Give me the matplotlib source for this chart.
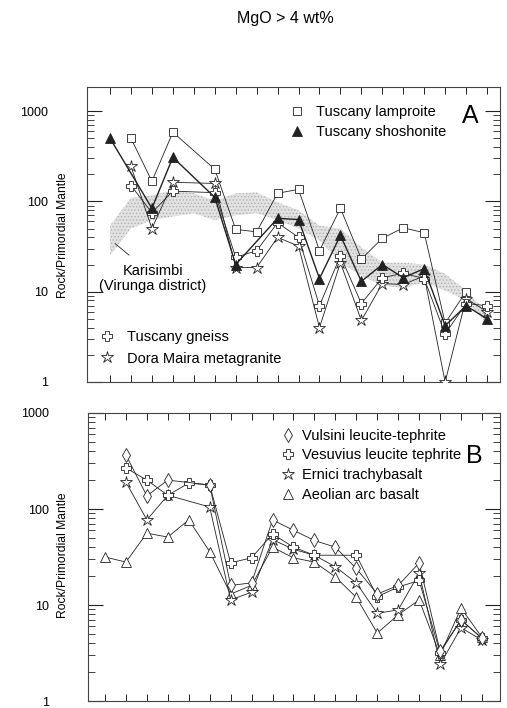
import matplotlib.pyplot as plt
import numpy as np
from matplotlib.lines import Line2D
from matplotlib.ticker import LogLocator, FuncFormatter, NullFormatter

plt.rcParams['font.family'] = ['Liberation Sans', 'DejaVu Sans']
plt.rcParams['hatch.linewidth'] = 0.6

nan = np.nan

# element positions along the spider diagram (x axis carries ticks only)
elements = np.arange(19)

# ---- panel A : MgO > 4 wt%, Tuscany / Dora Maira ----
tuscany_lamproite = [nan, 500, 167, 584, nan, 227, 49, 46, 123, 136, 28.5, 84, 23, 39, 51, 45, 4.5, 10, nan]
tuscany_shoshonite = [500, nan, 84, 308, nan, 111, 20, nan, 65, 63, 14, 42, 13, 20, 14.3, 18, 4.2, 7, 5]
tuscany_gneiss = [nan, 150, 75, 130, nan, 125, 24, 28.5, 58, 40, 7, 25, 7.4, 14.3, 16, 14, 3.4, 7.4, 7]
dora_maira = [nan, 245, 50, 163, nan, 158, 18.5, 18.5, 40, 32, 4, 21, 4.8, 12.3, 12, 15, 1.0, 8.4, 6]

# Karisimbi (Virunga district) field, lower / upper envelope
karisimbi_low = [25, 50, 62, 68, 74, 62, 70, 74, 62, 50, 37, 21, 15, 11.7, 11, 12.6, 10.3, 8, 4.4]
karisimbi_high = [54, 110, 117, 133, 123, 102, 123, 126, 98, 80, 54, 50, 31, 21, 21, 20, 15.8, 10.3, 5.9]

# ---- panel B : Roman province / Aeolian arc ----
vulsini = [nan, 365, 137, 200, nan, 178, 16, 17, 77, 60, 47, 40, 24, 13, 16, 27.4, 3.3, 7, 4.5]
vesuvius = [nan, 268, 200, 139, 186, 178, 27.5, 31, 55, 40, 33, nan, 33, 12.2, 15.4, 18, 3.2, 7, 4.5]
ernici = [nan, 191, 77, 139, nan, 105, 11.3, 13.6, 48, 38, 33, 25, 17, 8.2, 8.9, 21.5, 2.4, 5.8, 4.3]
aeolian = [31.6, 28, 56, 51, 77, 36, 13, 16, 40, 31, 28, 19.6, 12, 5.1, 7.9, 11.3, 3.0, 9.3, 4.6]

ink = '#222222'


def plot_series(ax, vals, marker, ms, filled=False, lw=0.6):
    # connect only the elements that were measured
    v = np.array(vals, dtype=float)
    ok = ~np.isnan(v)
    ax.plot(elements[ok], v[ok], color=ink, lw=lw, marker=marker, ms=ms,
            mfc=ink if filled else 'white', mec=ink, mew=0.6, zorder=3)


def setup_axes(ax, ylim, xlim):
    ax.set_yscale('log')
    ax.set_ylim(*ylim)
    ax.set_xlim(*xlim)
    ax.set_xticks(elements)
    ax.tick_params(axis='x', which='both', direction='in', top=True, bottom=True,
                   labelbottom=False, length=5, width=0.7, color=ink)
    ax.yaxis.set_major_locator(LogLocator(base=10))
    ax.yaxis.set_minor_locator(LogLocator(base=10, subs=np.arange(2, 10)))
    ax.yaxis.set_major_formatter(FuncFormatter(lambda v, p: f'{v:g}'))
    ax.yaxis.set_minor_formatter(NullFormatter())
    # tick labels sit far left, the axis title goes between them and the frame
    ax.tick_params(axis='y', which='major', direction='in', left=True, right=True,
                   length=11, width=0.8, labelsize=9, color=ink, pad=28)
    ax.tick_params(axis='y', which='minor', direction='in', left=True, right=True,
                   length=5, width=0.6, color=ink)
    for s in ax.spines.values():
        s.set_linewidth(0.8)
        s.set_color('#444444')


def key(marker, ms, filled=False):
    return Line2D([], [], ls='none', marker=marker, ms=ms, mec=ink, mew=0.6,
                  mfc=ink if filled else 'white')


fig = plt.figure(figsize=(5.07, 7.08), dpi=100)
axA = fig.add_axes([87 / 507, 1 - 382 / 708, 413 / 507, 295 / 708])
axB = fig.add_axes([88 / 507, 1 - 701 / 708, 412 / 507, 288 / 708])

fig.text(285 / 507, 1 - 18 / 708, 'MgO > 4 wt%', ha='center', va='center', fontsize=11.5)

# panel A
setup_axes(axA, (1, 1850), (-1.1, 18.62))
axA.fill_between(elements, karisimbi_low, karisimbi_high, facecolor='#e2e2e2',
                 edgecolor='#b0b0b0', hatch='.....', lw=0, zorder=1)
plot_series(axA, tuscany_lamproite, 's', 6)
plot_series(axA, dora_maira, '*', 9)
plot_series(axA, tuscany_gneiss, 'P', 7)
plot_series(axA, tuscany_shoshonite, '^', 7, filled=True, lw=1.0)

axA.text(0.16, 0.35, 'Karisimbi\n(Virunga district)', transform=axA.transAxes,
         ha='center', va='center', fontsize=10.5, linespacing=1.05)
axA.annotate('', xy=(0.063, 0.475), xytext=(0.107, 0.424), xycoords='axes fraction',
             arrowprops=dict(arrowstyle='-', lw=0.6, color=ink))
axA.text(0.927, 0.9, 'A', transform=axA.transAxes, ha='center', va='center', fontsize=18)

legA1 = axA.legend([key('s', 6), key('^', 7, True)], ['Tuscany lamproite', 'Tuscany shoshonite'],
                   loc='upper left', bbox_to_anchor=(0.477, 0.96), frameon=False, fontsize=10.5,
                   handlelength=1, handletextpad=0.8, labelspacing=0.45, borderaxespad=0)
axA.add_artist(legA1)
axA.legend([key('P', 7), key('*', 9)], ['Tuscany gneiss', 'Dora Maira metagranite'],
           loc='upper left', bbox_to_anchor=(0.017, 0.195), frameon=False, fontsize=10.5,
           handlelength=1, handletextpad=0.85, labelspacing=0.5, borderaxespad=0)

# panel B
setup_axes(axB, (1, 1000), (-0.81, 18.86))
plot_series(axB, aeolian, '^', 7)
plot_series(axB, ernici, '*', 9)
plot_series(axB, vesuvius, 'P', 7)
plot_series(axB, vulsini, 'd', 7)
axB.text(0.937, 0.85, 'B', transform=axB.transAxes, ha='center', va='center', fontsize=18)
axB.legend([key('d', 7), key('P', 7), key('*', 9), key('^', 7)],
           ['Vulsini leucite-tephrite', 'Vesuvius leucite tephrite', 'Ernici trachybasalt',
            'Aeolian arc basalt'],
           loc='upper left', bbox_to_anchor=(0.454, 0.966), frameon=False, fontsize=10.5,
           handlelength=1, handletextpad=0.45, labelspacing=0.4, borderaxespad=0)

for ax, yc in ((axA, 235), (axB, 555)):
    fig.text(63 / 507, 1 - yc / 708, 'Rock/Primordial Mantle', rotation=90,
             ha='center', va='center', fontsize=8.7)

fig.savefig('out.png', dpi=100)
